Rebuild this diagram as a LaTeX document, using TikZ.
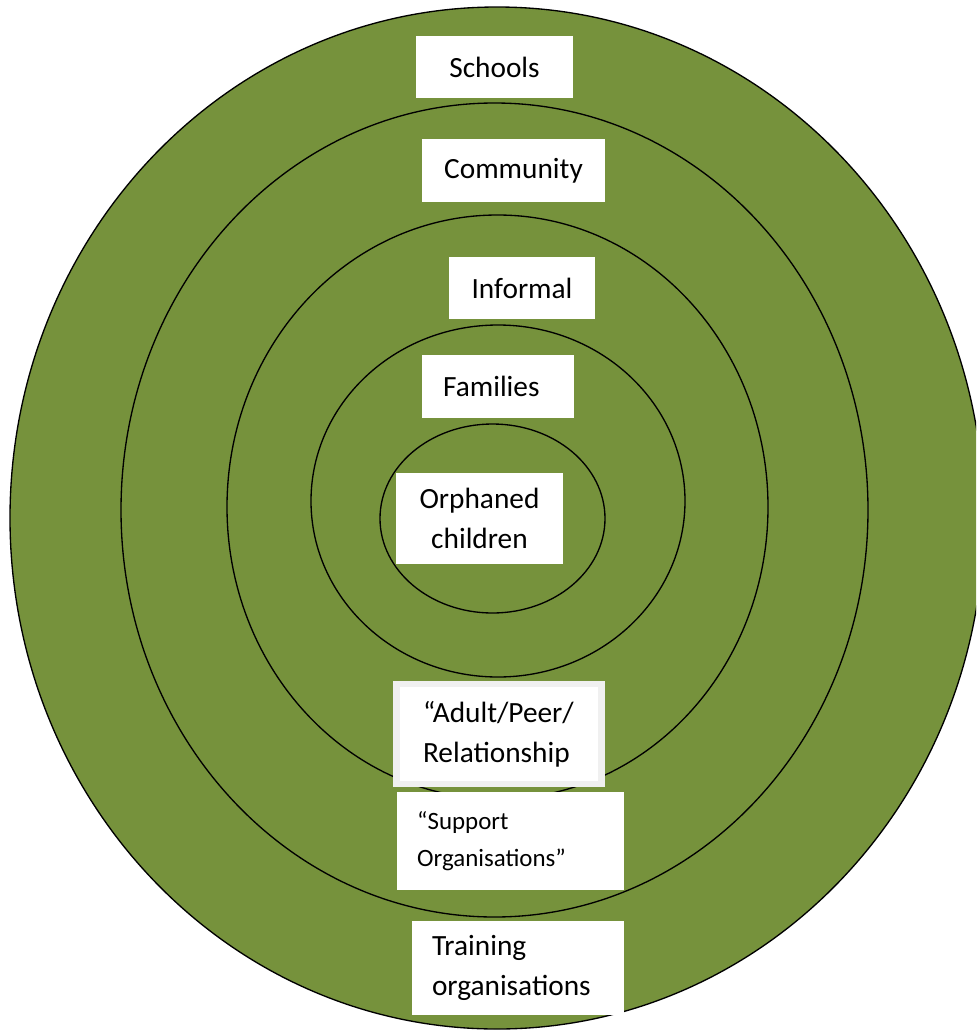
\documentclass[tikz,border=0pt]{standalone}
\usepackage{fontspec}
\setmainfont{Carlito}
\usetikzlibrary{positioning}
\definecolor{ringgreen}{HTML}{76923C}
\tikzset{
    %Define style for the rings
    ring/.style={
           fill=ringgreen,
           draw=black,
           line width=1pt},
    %Define style for label boxes
    boks/.style={
           rectangle,
           fill=white,
           inner sep=0pt,
           align=center,
           font=\fontsize{22}{30}\selectfont},
    % Define style for boxes with left text
    vboks/.style={
           boks,
           align=left,
           inner xsep=20pt}
}

\begin{document}
\begin{tikzpicture}[x=0.75pt,y=-0.75pt]
\clip (0,0) rectangle (976,1032);
\fill[white] (0,0) rectangle (976,1032);
% rings, outside in
\draw[ring] (497,518) ellipse [x radius=487, y radius=511];
\draw[ring] (494.5,510) ellipse [x radius=373.5, y radius=407];
\draw[ring] (497.5,507) ellipse [x radius=270.5, y radius=292];
\draw[ring] (498,501) ellipse [x radius=187, y radius=176];
\draw[ring] (492.5,518.5) ellipse [x radius=112.5, y radius=94.5];
% labels
\node[boks, minimum width=117.75pt, minimum height=46.5pt] (schools) at (494.5,67) {Schools};
\node[boks, minimum width=137.25pt, minimum height=47.25pt] (community) at (513.5,170.5) {Community};
\node[boks, minimum width=109.5pt, minimum height=46.5pt] (informal) at (522,288) {Informal};
\node[boks, minimum width=114pt, minimum height=47.25pt] (families) at (498,386.5) {Families\hspace*{10pt}};
\node[boks, minimum width=125.25pt, minimum height=68.25pt] (orphaned) at (479.5,518) {Orphaned\\children};
\node[vboks, draw=black!6, line width=5pt, text width=114pt,
      minimum width=154pt, minimum height=75pt] (adult) at (499,734) {“Adult/Peer/\\Relationship};
\node[vboks, text width=140pt, inner xsep=15pt, minimum width=170.25pt, minimum height=73.5pt,
      font=\fontsize{18.7}{28}\selectfont] (support) at (510.5,841) {“Support\\Organisations”};
\node[vboks, text width=129pt, inner xsep=15pt, minimum width=159pt, minimum height=70.5pt,
      font=\fontsize{22}{30}\selectfont] (training) at (518,968) {Training\\organisations};
\end{tikzpicture}
\end{document}
